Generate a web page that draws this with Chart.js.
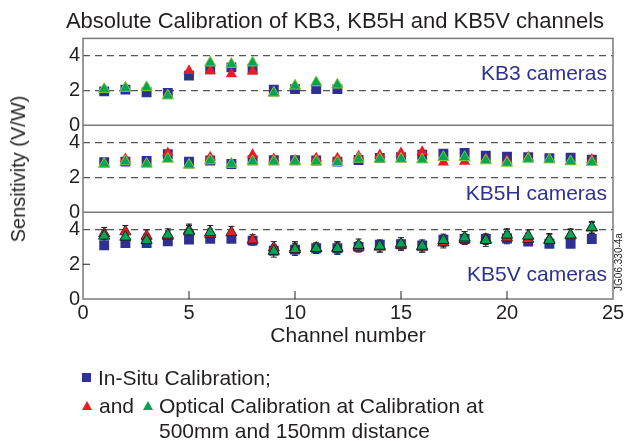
<!DOCTYPE html>
<html>
<head>
<meta charset="utf-8">
<script src="https://cdn.jsdelivr.net/npm/chart.js@4/dist/chart.umd.min.js"></script>
<style>
  body { margin: 0; background: #fff; font-family: "Liberation Sans", Arial, sans-serif; }
  #wrap { position: relative; width: 626px; height: 441px; overflow: hidden; }
  #chart { position: absolute; left: 0; top: 0; }
  .txt { position: absolute; white-space: nowrap; color: #231f20; line-height: 1; }
  .cam { color: #2e3192; font-size: 21px; right: 19px; }
  .mark { position: absolute; }
</style>
</head>
<body>
<div id="wrap">
  <canvas id="chart" width="626" height="441"></canvas>
  <div class="txt" style="left:18px;top:169px;font-size:20px;transform:translate(-50%,-50%) rotate(-90deg);">Sensitivity (V/W)</div>
  <div class="txt cam" style="top:62px;">KB3 cameras</div>
  <div class="txt cam" style="top:182px;">KB5H cameras</div>
  <div class="txt cam" style="top:263px;">KB5V cameras</div>
  <div class="txt" style="left:619px;top:262px;font-size:10px;transform:translate(-50%,-50%) rotate(-90deg);">JG06.330-4a</div>

  <div class="mark" style="left:82px;top:373px;width:9px;height:9px;background:#2e3192;"></div>
  <div class="txt" style="left:98px;top:367px;font-size:21px;">In-Situ Calibration;</div>
  <div class="mark" style="left:82px;top:401px;width:0;height:0;border-left:5px solid transparent;border-right:5px solid transparent;border-bottom:9px solid #ed1c24;"></div>
  <div class="txt" style="left:99px;top:395px;font-size:21px;">and</div>
  <div class="mark" style="left:143px;top:401px;width:0;height:0;border-left:5px solid transparent;border-right:5px solid transparent;border-bottom:9px solid #00a651;"></div>
  <div class="txt" style="left:159px;top:395px;font-size:21px;">Optical Calibration at Calibration at</div>
  <div class="txt" style="left:159px;top:420px;font-size:21px;">500mm and 150mm distance</div>
</div>
<script>
// channel numbers
const kb3Channels = [1, 2, 3, 4, 5, 6, 7, 8, 9, 10, 11, 12];
const kb5Channels = [1, 2, 3, 4, 5, 6, 7, 8, 9, 10, 11, 12, 13, 14, 15, 16, 17, 18, 19, 20, 21, 22, 23, 24];

// KB3 cameras
const kb3InSitu = [1.95, 2.05, 1.9, 1.86, 2.86, 3.22, 3.33, 3.24, 2.05, 2.08, 2.08, 2.08];
const kb3Opt500 = [2.08, 2.14, 2.18, 1.7, 3.14, 3.12, 2.95, 3.09, 1.86, 2.27, 2.46, 2.33];
const kb3Opt150 = [2.08, 2.14, 2.18, 1.7, null, 3.6, 3.52, 3.6, 1.86, 2.27, 2.46, 2.33];

// KB5H cameras
const kb5hInSitu = [2.87, 2.91, 2.95, 3.33, 2.91, 2.97, 2.77, 2.99, 2.99, 2.99, 2.97, 2.91,
  3.0, 3.12, 3.16, 3.3, 3.37, 3.4, 3.25, 3.19, 3.16, 3.11, 3.14, 3.02];
const kb5hOpt500 = [2.77, 3.06, 2.8, 3.41, 2.72, 3.16, 2.77, 3.3, 3.06, 2.99, 3.1, 3.1,
  3.22, 3.29, 3.41, 3.48, 2.87, 2.91, 3.06, 2.97, 3.16, 3.02, 2.91, 3.02];
const kb5hOpt150 = [2.77, 2.91, 2.77, 3.06, 2.72, 2.97, 2.77, 2.91, 2.91, 2.91, 2.91, 2.87,
  3.06, 3.06, 3.06, 3.02, 3.16, 3.16, 2.97, 2.83, 3.06, 3.02, 2.91, 2.87];

// KB5V cameras
const kb5vInSitu = [3.09, 3.22, 3.22, 3.32, 3.42, 3.46, 3.46, 3.36, 2.78, 2.84, 2.92, 2.92,
  3.0, 3.12, 3.15, 3.08, 3.42, 3.45, 3.45, 3.48, 3.3, 3.18, 3.18, 3.45];
const kb5vOpt500 = [3.77, 3.88, 3.63, 3.62, 3.96, 3.73, 3.83, 3.4, 2.95, 2.95, 2.92, 2.95,
  3.0, 3.0, 3.1, 3.0, 3.24, 3.44, 3.44, 3.53, 3.44, 3.42, 3.65, 4.1];
const kb5vOpt150 = [3.63, 3.57, 3.38, 3.69, 3.88, 3.83, null, null, 2.76, 2.86, 2.92, 2.92,
  3.1, 3.05, 3.18, 3.05, 3.38, 3.53, 3.38, 3.69, 3.63, 3.38, 3.69, 4.12];
const kb5vErr500 = [0.35, 0.35, 0.35, 0.3, 0.35, 0.3, 0.35, 0.3, 0.35, 0.35, 0.3, 0.35,
  0.3, 0.3, 0.3, 0.3, 0.3, 0.3, 0.3, 0.35, 0.35, 0.35, 0.35, 0.3];
const kb5vErr150 = [0.35, 0.35, 0.35, 0.35, 0.35, 0.4, null, null, 0.35, 0.35, 0.3, 0.35,
  0.35, 0.35, 0.35, 0.35, 0.35, 0.35, 0.35, 0.35, 0.35, 0.35, 0.35, 0.35];

const xTicks = [0, 5, 10, 15, 20, 25];
const yTicks = [0, 2, 4];

const BLUE = '#2e3192', RED = '#ed1c24', GREEN = '#00a651', INK = '#231f20';

function pts(xs, ys) {
  return xs.map((x, i) => ({ x, y: ys[i] }));
}

function series(label, xs, ys, axis, kind, errors) {
  const ds = {
    label,
    data: pts(xs, ys),
    yAxisID: axis,
    showLine: false,
  };
  if (kind === 'insitu') {
    Object.assign(ds, { pointStyle: 'rect', pointRadius: 7, backgroundColor: BLUE, borderColor: BLUE, borderWidth: 0, order: 3 });
  } else if (kind === 'red') {
    Object.assign(ds, { pointStyle: 'triangle', pointRadius: 6.5, backgroundColor: RED, borderColor: axis === 'yV' ? INK : RED, borderWidth: axis === 'yV' ? 0.8 : 0, order: 2 });
  } else {
    Object.assign(ds, { pointStyle: 'triangle', pointRadius: 6.5, backgroundColor: GREEN, borderColor: axis === 'yV' ? INK : '#8dc63f', borderWidth: 1, order: 1 });
  }
  if (errors) ds.errors = errors;
  return ds;
}

// error bars, panel frame and inward tick marks
const decorations = {
  id: 'decorations',
  beforeDatasetsDraw(chart) {
    const ctx = chart.ctx;
    ctx.save();
    ctx.strokeStyle = INK;
    ctx.lineWidth = 1;
    chart.data.datasets.forEach((ds, i) => {
      if (!ds.errors) return;
      const ys = chart.scales[ds.yAxisID];
      chart.getDatasetMeta(i).data.forEach((pt, j) => {
        const v = ds.data[j].y, e = ds.errors[j];
        if (v == null || e == null) return;
        const top = ys.getPixelForValue(v + e), bot = ys.getPixelForValue(v - e);
        ctx.beginPath();
        ctx.moveTo(pt.x, top); ctx.lineTo(pt.x, bot);
        ctx.moveTo(pt.x - 3, top); ctx.lineTo(pt.x + 3, top);
        ctx.moveTo(pt.x - 3, bot); ctx.lineTo(pt.x + 3, bot);
        ctx.stroke();
      });
    });
    ctx.restore();
  },
  afterDraw(chart) {
    const { ctx, chartArea: a, scales } = chart;
    ctx.save();
    ctx.strokeStyle = '#7a7a7a';
    ctx.lineWidth = 1.5;
    ctx.strokeRect(a.left, a.top, a.right - a.left, a.bottom - a.top);
    ctx.beginPath();
    [scales.y3.bottom, scales.yH.bottom].forEach((y) => {
      ctx.moveTo(a.left, y); ctx.lineTo(a.right, y);
    });
    ctx.stroke();
    ctx.strokeStyle = INK;
    ctx.lineWidth = 1;
    ctx.beginPath();
    [5, 10, 15, 20].forEach((v) => {
      const x = scales.x.getPixelForValue(v);
      ctx.moveTo(x, a.bottom); ctx.lineTo(x, a.bottom - 8);
    });
    const y2 = scales.yV.getPixelForValue(2);
    ctx.moveTo(a.left, y2); ctx.lineTo(a.left + 7, y2);
    ctx.stroke();
    ctx.restore();
  },
};

function yAxis(dashedAt) {
  return {
    type: 'linear',
    position: 'left',
    stack: 'panels',
    stackWeight: 1,
    min: 0,
    max: 5,
    afterFit(sc) { sc.width = 26; },
    afterBuildTicks(sc) { sc.ticks = yTicks.map((v) => ({ value: v })); },
    ticks: { color: INK, font: { size: 20 }, padding: 3 },
    grid: {
      drawTicks: false,
      lineWidth: 1.2,
      borderDash: [7, 5],
      color: (c) => (c.tick && dashedAt.includes(c.tick.value) ? '#555' : 'rgba(0,0,0,0)'),
    },
    border: { display: false, dash: [7, 5] },
  };
}

new Chart(document.getElementById('chart'), {
  type: 'scatter',
  data: {
    datasets: [
      series('KB3 In-Situ', kb3Channels, kb3InSitu, 'y3', 'insitu'),
      series('KB3 500mm', kb3Channels, kb3Opt500, 'y3', 'red'),
      series('KB3 150mm', kb3Channels, kb3Opt150, 'y3', 'green'),
      series('KB5H In-Situ', kb5Channels, kb5hInSitu, 'yH', 'insitu'),
      series('KB5H 500mm', kb5Channels, kb5hOpt500, 'yH', 'red'),
      series('KB5H 150mm', kb5Channels, kb5hOpt150, 'yH', 'green'),
      series('KB5V In-Situ', kb5Channels, kb5vInSitu, 'yV', 'insitu'),
      series('KB5V 500mm', kb5Channels, kb5vOpt500, 'yV', 'red', kb5vErr500),
      series('KB5V 150mm', kb5Channels, kb5vOpt150, 'yV', 'green', kb5vErr150),
    ],
  },
  options: {
    responsive: false,
    animation: false,
    events: [],
    layout: { padding: { left: 57, right: 13, top: 0, bottom: 89 } },
    plugins: {
      legend: { display: false },
      tooltip: { enabled: false },
      title: {
        display: true,
        text: 'Absolute Calibration of KB3, KB5H and KB5V channels',
        color: INK,
        font: { size: 22, weight: 'normal' },
        padding: { top: 9, bottom: 3 },
      },
    },
    scales: {
      x: {
        type: 'linear',
        min: 0,
        max: 25,
        afterFit(sc) { sc.height = 53; },
        afterBuildTicks(sc) { sc.ticks = xTicks.map((v) => ({ value: v })); },
        ticks: { color: INK, font: { size: 20 }, padding: -6, maxRotation: 0 },
        grid: { display: false },
        border: { display: false },
        title: { display: true, text: 'Channel number', color: INK, font: { size: 21 }, padding: { top: 0, bottom: 3 } },
      },
      yV: yAxis([4]),
      yH: yAxis([2, 4]),
      y3: yAxis([2, 4]),
    },
  },
  plugins: [decorations],
});
</script>
</body>
</html>
